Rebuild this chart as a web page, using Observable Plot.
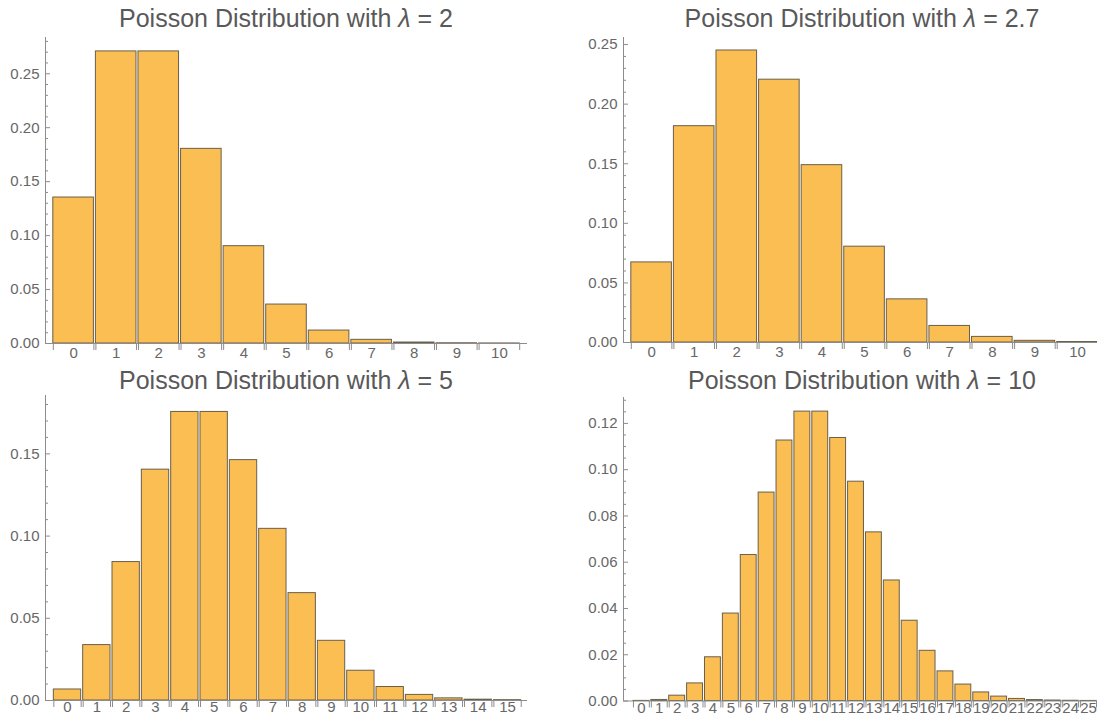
<!DOCTYPE html>
<html><head><meta charset="utf-8">
<script src="https://cdn.jsdelivr.net/npm/d3@7"></script>
<script src="https://cdn.jsdelivr.net/npm/@observablehq/plot@0.6"></script>
<style>
body{margin:0;background:#fff;}
#wrap{position:relative;width:1097px;height:717px;overflow:hidden;font-family:"Liberation Sans",Arial,sans-serif;}
.panel{position:absolute;}
.title{position:absolute;font-size:25px;color:#595959;white-space:nowrap;transform:translateX(-50%);line-height:25px;}
</style></head><body><div id="wrap"></div>
<script>
// Poisson probabilities
const lambdas = ["2", "2.7", "5", "10"];
const probsL2 = [0.1353, 0.2707, 0.2707, 0.1804, 0.0902, 0.0361, 0.0120, 0.0034, 0.0009, 0.0002, 0.00004];
const probsL27 = [0.0672, 0.1815, 0.2450, 0.2205, 0.1488, 0.0804, 0.0362, 0.0139, 0.0047, 0.0014, 0.0004];
const probsL5 = [0.0067, 0.0337, 0.0842, 0.1404, 0.1755, 0.1755, 0.1462, 0.1044, 0.0653, 0.0363, 0.0181, 0.0082, 0.0034, 0.0013, 0.0005, 0.0002];
const probsL10 = [0.00005, 0.00045, 0.0023, 0.0076, 0.0189, 0.0378, 0.0631, 0.0901, 0.1126, 0.1251, 0.1251, 0.1137, 0.0948, 0.0729, 0.0521, 0.0347, 0.0217, 0.0128, 0.0071, 0.0037, 0.0019, 0.0009, 0.0004, 0.0002, 0.0001, 0.00003];
// y tick labels
const yTicksA = [0, 0.05, 0.10, 0.15, 0.20, 0.25];
const yTicksB = [0, 0.05, 0.10, 0.15];
const yTicksC = [0, 0.02, 0.04, 0.06, 0.08, 0.10, 0.12];

const barFill = "#FBBE53";
const barStroke = "#6a5f4c";
const axisColor = "#8c8c8c";
const labelColor = "#676767";

const panels = [
  {lam: lambdas[0], probs: probsL2, left: 0, top: 0, width: 548, height: 370, mL: 45, mR: 21, mT: 37, mB: 27,
   xDom: [-0.66, 10.66], yMax: 0.2836, yMajor: yTicksA, minorStep: 0.01, titleX: 286, titleY: 6, pad: 4},
  {lam: lambdas[1], probs: probsL27, left: 548, top: 0, width: 549, height: 370, mL: 75, mR: 0, mT: 37, mB: 28,
   xDom: [-0.66, 10.47], yMax: 0.2559, yMajor: yTicksA, minorStep: 0.01, titleX: 862, titleY: 6, pad: 4},
  {lam: lambdas[2], probs: probsL5, left: 0, top: 370, width: 548, height: 347, mL: 45, mR: 21, mT: 25, mB: 17,
   xDom: [-0.75, 15.68], yMax: 0.1855, yMajor: yTicksB, minorStep: 0.01, titleX: 286, titleY: 368, pad: 1},
  {lam: lambdas[3], probs: probsL10, left: 548, top: 370, width: 549, height: 347, mL: 75, mR: 0, mT: 27, mB: 16.5,
   xDom: [-1.0, 25.5], yMax: 0.1312, yMajor: yTicksC, minorStep: 0.005, titleX: 862, titleY: 368, pad: 1}
];

const wrap = document.getElementById("wrap");
for (const p of panels) {
  const rows = p.probs.map((v, k) => ({k, v}));
  const ks = rows.map(d => d.k);
  const plotW = p.width - p.mL - p.mR;
  const minor = d3.range(0, p.yMax + 1e-9, p.minorStep).filter(v => !p.yMajor.some(m => Math.abs(m - v) < 1e-9));
  const chart = Plot.plot({
    width: p.width, height: p.height,
    marginLeft: p.mL, marginRight: p.mR, marginTop: p.mT, marginBottom: p.mB,
    x: {domain: p.xDom},
    y: {domain: [0, p.yMax]},
    style: {fontFamily: '"Liberation Sans", Arial, sans-serif', fontSize: "15px", background: "transparent", overflow: "visible"},
    marks: [
      Plot.rect(rows, {x1: d => d.k - 0.5, x2: d => d.k + 0.5, y1: () => 0, y2: "v",
        insetLeft: 1, insetRight: 1, fill: barFill, stroke: barStroke, strokeWidth: 1}),
      Plot.ruleY([0], {stroke: axisColor}),
      Plot.ruleX([p.xDom[0]], {stroke: axisColor}),
      Plot.tickY(p.yMajor, {y: d => d, insetRight: plotW - 5, stroke: axisColor}),
      Plot.tickY(minor, {y: d => d, insetRight: plotW - 3, stroke: axisColor}),
      Plot.axisY({ticks: p.yMajor, tickFormat: d3.format(".2f"), tickSize: 0, tickPadding: 6, color: labelColor, label: null}),
      Plot.axisX({ticks: ks, tickFormat: d => String(d), tickSize: 0, tickPadding: p.pad, color: labelColor, label: null}),
      Plot.axisX({ticks: ks.map(k => k - 0.5), tickFormat: () => "", tickSize: 7, dx: 1, stroke: axisColor, label: null}),
      Plot.axisX({ticks: ks.map(k => k + 0.5), tickFormat: () => "", tickSize: 7, dx: -1, stroke: axisColor, label: null})
    ]
  });
  chart.classList.add("panel");
  chart.style.left = p.left + "px";
  chart.style.top = p.top + "px";
  wrap.appendChild(chart);
  const t = document.createElement("div");
  t.className = "title";
  t.style.left = p.titleX + "px";
  t.style.top = p.titleY + "px";
  t.innerHTML = "Poisson Distribution with <i>λ</i> = " + p.lam;
  wrap.appendChild(t);
}
</script>
</body></html>
